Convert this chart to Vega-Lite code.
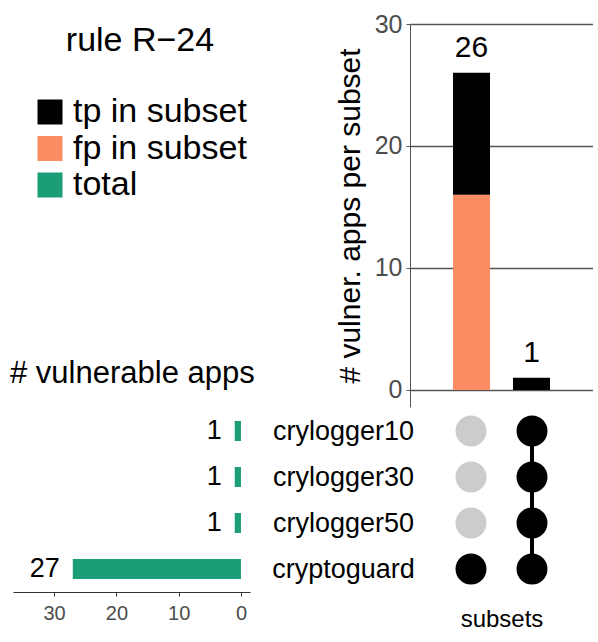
{
  "$schema": "https://vega.github.io/schema/vega-lite/v6.json",
  "padding": {"left": 10, "top": 12, "right": 0, "bottom": 0},
  "autosize": {"type": "pad"},
  "background": "white",
  "config": {
    "font": "Liberation Sans",
    "view": {"stroke": null},
    "axis": {"grid": false}
  },
  "bounds": "flush",
  "columns": 2,
  "spacing": {"row": 1, "column": 160},
  "resolve": {
    "scale": {"x": "independent", "y": "independent", "color": "independent"},
    "legend": {"color": "independent"},
    "axis": {"x": "independent", "y": "independent"}
  },
  "concat": [
    {
      "width": 237,
      "height": 383,
      "data": {"values": [
        {"category": "tp in subset"},
        {"category": "fp in subset"},
        {"category": "total"}
      ]},
      "mark": {"type": "square", "opacity": 0},
      "encoding": {
        "color": {
          "field": "category",
          "type": "nominal",
          "scale": {"domain": ["tp in subset", "fp in subset", "total"], "range": ["#000000", "#FC8D62", "#1B9E77"]},
          "legend": {
            "title": "rule R\u221224",
            "orient": "none",
            "legendX": 20,
            "legendY": 0,
            "padding": 0,
            "symbolType": "square",
            "symbolSize": 625,
            "symbolStrokeWidth": 0,
            "symbolOpacity": 1,
            "labelFontSize": 34,
            "labelLimit": 400,
            "labelColor": "black",
            "labelOffset": 6,
            "titleFontSize": 34,
            "titleFontWeight": "normal",
            "titleColor": "black",
            "titleAnchor": "middle",
            "titleLimit": 400,
            "titlePadding": 37,
            "rowPadding": 2.5
          }
        }
      }
    },
    {
      "width": 183,
      "height": 383,
      "layer": [
        {
          "data": {"values": [
            {"subset": "cryptoguard only", "type": "fp in subset", "ord": 1, "count": 16},
            {"subset": "cryptoguard only", "type": "tp in subset", "ord": 2, "count": 10},
            {"subset": "all four", "type": "tp in subset", "ord": 2, "count": 1}
          ]},
          "mark": {"type": "bar"},
          "encoding": {
            "x": {"field": "subset", "type": "nominal", "sort": ["cryptoguard only", "all four"], "scale": {"paddingInner": 0.383, "paddingOuter": 0.717}, "axis": null},
            "y": {
              "field": "count",
              "type": "quantitative",
              "stack": "zero",
              "scale": {"domain": [-1.4, 30], "nice": false, "zero": false},
              "axis": {
                "values": [0, 10, 20, 30],
                "grid": true,
                "gridColor": "#555555",
                "gridWidth": 1.5,
                "tickSize": 4,
                "tickColor": "#555555",
                "domainColor": "#555555",
                "labelFontSize": 25,
                "labelColor": "#4D4D4D",
                "labelPadding": 4,
                "title": "# vulner. apps per subset",
                "titleFontSize": 30,
                "titleFontWeight": "normal",
                "titleColor": "black",
                "titlePadding": 9
              }
            },
            "color": {"field": "type", "type": "nominal", "scale": {"domain": ["tp in subset", "fp in subset"], "range": ["#000000", "#FC8D62"]}, "legend": null},
            "order": {"field": "ord", "type": "quantitative"}
          }
        },
        {
          "data": {"values": [
            {"subset": "cryptoguard only", "total": 26},
            {"subset": "all four", "total": 1}
          ]},
          "mark": {"type": "text", "baseline": "alphabetic", "dy": -16, "fontSize": 30, "color": "black"},
          "encoding": {
            "x": {"field": "subset", "type": "nominal", "sort": ["cryptoguard only", "all four"]},
            "y": {"field": "total", "type": "quantitative"},
            "text": {"field": "total", "type": "quantitative"}
          }
        }
      ]
    },
    {
      "width": 237,
      "height": 184,
      "title": {"text": "# vulnerable apps", "anchor": "start", "fontSize": 31, "fontWeight": "normal", "color": "black", "dx": -3, "offset": 18},
      "data": {"values": [
        {"set": "crylogger10", "n": 1},
        {"set": "crylogger30", "n": 1},
        {"set": "crylogger50", "n": 1},
        {"set": "cryptoguard", "n": 27}
      ]},
      "layer": [
        {
          "mark": {"type": "bar", "height": 20, "color": "#1B9E77"},
          "encoding": {
            "y": {"field": "set", "type": "nominal", "scale": {"paddingInner": 0, "paddingOuter": 0}, "axis": null},
            "x": {
              "field": "n",
              "type": "quantitative",
              "scale": {"domain": [-1.45, 36.6], "reverse": true, "nice": false, "zero": false},
              "axis": {
                "values": [0, 10, 20, 30],
                "tickSize": 4,
                "tickColor": "#333333",
                "domainColor": "#333333",
                "labelFontSize": 20,
                "labelColor": "#4D4D4D",
                "labelPadding": 7,
                "title": null
              }
            },
            "x2": {"datum": 0}
          }
        },
        {
          "mark": {"type": "text", "align": "right", "baseline": "middle", "dx": -13, "fontSize": 27, "color": "black"},
          "encoding": {
            "y": {"field": "set", "type": "nominal"},
            "x": {"field": "n", "type": "quantitative"},
            "text": {"field": "n", "type": "quantitative"}
          }
        }
      ]
    },
    {
      "width": 183,
      "height": 184,
      "encoding": {
        "x": {
          "field": "subset",
          "type": "nominal",
          "sort": ["cryptoguard only", "all four"],
          "scale": {"type": "point", "padding": 1.025},
          "axis": {"title": "subsets", "labels": false, "ticks": false, "domain": false, "titleFontSize": 24, "titleFontWeight": "normal", "titleColor": "black", "titlePadding": 15}
        },
        "y": {
          "field": "set",
          "type": "nominal",
          "scale": {"type": "point", "padding": 0.5},
          "axis": {"title": null, "ticks": false, "domain": false, "labelAlign": "center", "labelBaseline": "middle", "labelPadding": 67, "labelFontSize": 27, "labelColor": "black", "labelLimit": 300}
        }
      },
      "layer": [
        {
          "data": {"values": [
            {"subset": "all four", "set": "crylogger10", "ord": 1},
            {"subset": "all four", "set": "crylogger30", "ord": 2},
            {"subset": "all four", "set": "crylogger50", "ord": 3},
            {"subset": "all four", "set": "cryptoguard", "ord": 4}
          ]},
          "mark": {"type": "line", "strokeWidth": 4, "color": "black"},
          "encoding": {
            "order": {"field": "ord", "type": "quantitative"}
          }
        },
        {
          "data": {"values": [
            {"subset": "cryptoguard only", "set": "crylogger10", "active": "no"},
            {"subset": "cryptoguard only", "set": "crylogger30", "active": "no"},
            {"subset": "cryptoguard only", "set": "crylogger50", "active": "no"},
            {"subset": "cryptoguard only", "set": "cryptoguard", "active": "yes"},
            {"subset": "all four", "set": "crylogger10", "active": "yes"},
            {"subset": "all four", "set": "crylogger30", "active": "yes"},
            {"subset": "all four", "set": "crylogger50", "active": "yes"},
            {"subset": "all four", "set": "cryptoguard", "active": "yes"}
          ]},
          "mark": {"type": "circle", "size": 960, "opacity": 1},
          "encoding": {
            "color": {"field": "active", "type": "nominal", "scale": {"domain": ["yes", "no"], "range": ["#000000", "#CCCCCC"]}, "legend": null}
          }
        }
      ]
    }
  ]
}
